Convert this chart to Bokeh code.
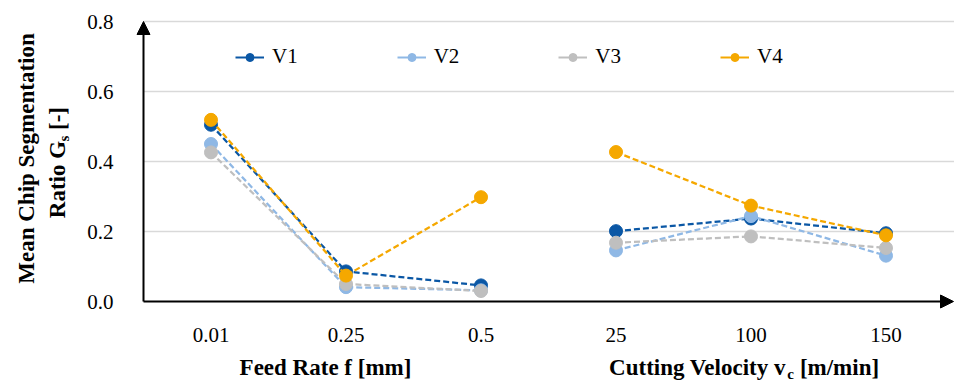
import math
from bokeh.plotting import figure
from bokeh.models import (Range1d, Arrow, NormalHead, Label, Legend, LegendItem,
                          FixedTicker, NumeralTickFormatter)
from bokeh.embed import file_html
from bokeh.resources import INLINE

# ---------------- data ----------------
feed_rates = ["0.01", "0.25", "0.5"]
velocities = ["25", "100", "150"]
categories = feed_rates + velocities
series_names = ["V1", "V2", "V3", "V4"]
v1 = [0.505, 0.086, 0.046, 0.201, 0.237, 0.195]
v2 = [0.450, 0.041, 0.032, 0.146, 0.244, 0.131]
v3 = [0.426, 0.050, 0.030, 0.168, 0.186, 0.153]
v4 = [0.519, 0.074, 0.298, 0.427, 0.274, 0.189]
series_values = [v1, v2, v3, v4]
y_ticks = [0.0, 0.2, 0.4, 0.6, 0.8]
colors = ["#0a57a5", "#8fb8e5", "#bfbfbf", "#f5a800"]

FONT = "Liberation Serif"
FS = "21px"
TFS = "23px"     # bold titles
SFS = "15px"     # subscripts

W, H = 954, 381
# plot-area geometry in window pixels
X0PX, Y0PX = 143, 301          # where category axis / value axis start
PX_PER_CAT, PX_PER_Y = 135, 350

n = len(categories)
x_pos = [i + 0.5 for i in range(n)]          # category centres
n_feed = len(feed_rates)

p = figure(width=W, height=H,
           x_range=Range1d(-X0PX / PX_PER_CAT, (W - X0PX) / PX_PER_CAT),
           y_range=Range1d(-(H - Y0PX) / PX_PER_Y, Y0PX / PX_PER_Y),
           output_backend="svg", toolbar_location=None,
           min_border=0, min_border_left=0, min_border_right=0,
           min_border_top=0, min_border_bottom=0)
p.outline_line_color = None
p.background_fill_color = "white"
p.border_fill_color = "white"

# axes (library axes, pinned at the origin of the chart area)
p.xaxis.fixed_location = 0
p.xaxis.ticker = FixedTicker(ticks=x_pos)
p.xaxis.major_label_overrides = {x: c for x, c in zip(x_pos, categories)}
p.xaxis.axis_line_color = None
p.xaxis.major_tick_line_color = None
p.xaxis.minor_tick_line_color = None
p.xaxis.major_label_standoff = 20
p.xaxis.major_label_text_font = FONT
p.xaxis.major_label_text_font_size = FS
p.xaxis.major_label_text_color = "black"

p.yaxis.fixed_location = 0
p.yaxis.ticker = FixedTicker(ticks=y_ticks)
p.yaxis.formatter = NumeralTickFormatter(format="0.0")
p.yaxis.axis_line_color = None
p.yaxis.major_tick_line_color = None
p.yaxis.minor_tick_line_color = None
p.yaxis.major_label_standoff = 24
p.yaxis.major_label_text_font = FONT
p.yaxis.major_label_text_font_size = FS
p.yaxis.major_label_text_color = "black"

p.xgrid.visible = False
p.ygrid.visible = False
# horizontal gridlines across the chart area only
p.segment(x0=0, x1=(W - X0PX) / PX_PER_CAT, y0=y_ticks[1:], y1=y_ticks[1:],
          line_color="#d9d9d9", line_width=1.5)

# axis lines with arrow heads
p.add_layout(Arrow(end=NormalHead(size=13, fill_color="black", line_color="black", line_width=1),
                   x_start=0, y_start=0, x_end=n, y_end=0,
                   line_color="black", line_width=2))
p.add_layout(Arrow(end=NormalHead(size=13, fill_color="black", line_color="black", line_width=1),
                   x_start=0, y_start=0, x_end=0, y_end=y_ticks[-1],
                   line_color="black", line_width=2))

# series
items = []
for name, vals, color in zip(series_names, series_values, colors):
    p.line(x=x_pos[:n_feed], y=vals[:n_feed], line_color=color, line_width=2.25, line_dash="6 3")
    p.line(x=x_pos[n_feed:], y=vals[n_feed:], line_color=color, line_width=2.25, line_dash="6 3")
    r = p.scatter(x=x_pos, y=vals, size=13, fill_color=color, line_color=color)
    # single-point solid line: invisible on the chart, gives the legend its solid line
    leg_line = p.line(x=x_pos[:1], y=vals[:1], line_color=color, line_width=2)
    items.append(LegendItem(label=name, renderers=[leg_line, r]))

legend = Legend(items=items, orientation="horizontal", location=(235, (H - 57) - 12),
                glyph_width=29, glyph_height=20, label_standoff=8, spacing=99,
                padding=0, margin=0, border_line_color=None, background_fill_alpha=0,
                label_text_font=FONT, label_text_font_size=FS, label_text_color="black")
p.add_layout(legend)


def lab(text, px, py, size=TFS, bold=True, angle=0.0):
    p.add_layout(Label(x=px, y=H - py, x_units="screen", y_units="screen", text=text,
                       angle=angle, text_align="center", text_baseline="middle",
                       text_font=FONT, text_font_size=size,
                       text_font_style="bold" if bold else "normal", text_color="black"))


# y axis title (two lines, rotated)
up = math.pi / 2
lab("Mean Chip Segmentation", 26, 158, angle=up)
lab("Ratio G", 57, 179, angle=up)
lab("s", 63, 138, size=SFS, angle=up)
lab("[-]", 57, 118, angle=up)

# x group titles
lab("Feed Rate f [mm]", 325, 367)
lab("Cutting Velocity v", 697, 367)
lab("c", 790, 373, size=SFS)
lab("[m/min]", 839, 367)

open("out.html", "w").write(file_html(p, INLINE))
